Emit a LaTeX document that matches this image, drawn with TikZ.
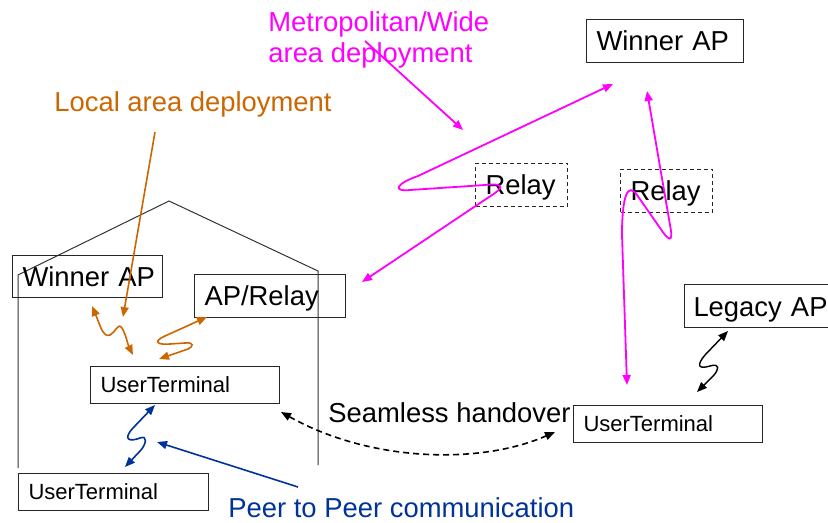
\documentclass[tikz,border=0pt]{standalone}
\usepackage{fontspec}
\setmainfont{Liberation Sans}
\usetikzlibrary{arrows.meta}
\definecolor{localorange}{RGB}{204,102,0}
\definecolor{widemagenta}{RGB}{255,0,255}
\definecolor{peerblue}{RGB}{0,51,153}

\begin{document}
\begin{tikzpicture}[x=0.5pt,y=-0.5pt,
  bigbox/.style={draw=black!85,line width=0.5pt,anchor=north west,inner xsep=5pt,inner ysep=0pt,
    align=left,text height=10pt,text depth=0pt,font=\fontsize{13.7}{16}\selectfont},
  utbox/.style={draw=black!85,line width=0.5pt,anchor=north west,inner xsep=5pt,inner ysep=0pt,
    align=left,text height=7.8pt,text depth=0pt,minimum height=18.5pt,text width=84.5pt,font=\fontsize{11}{13}\selectfont},
  relaybox/.style={bigbox,dashed,dash pattern=on 2pt off 1.5pt,text width=36pt,minimum height=21.5pt},
  freelabel/.style={inner sep=0pt,anchor=base west,font=\fontsize{13.7}{16}\selectfont},
  tip/.style={-{Triangle[length=5pt,width=4pt]}},
  bitip/.style={{Triangle[length=5pt,width=4pt]}-{Triangle[length=5pt,width=4pt]}}]
\useasboundingbox (0,0) rectangle (828,523);

% house outline
\draw[black!80,line width=0.5pt] (18,468) -- (18,275) -- (169,201) -- (318,271) -- (318,465);

% boxes
\node[bigbox,text width=68.5pt,minimum height=21.5pt] (wapR) at (586,19) {Winner~AP};
\node[bigbox,text width=65pt,minimum height=21pt] (wapL) at (12,255) {Winner~AP};
\node[bigbox,text width=65.5pt,minimum height=21.5pt] (aprelay) at (194,274) {AP/Relay};
\node[bigbox,text width=70pt,inner xsep=4.5pt,minimum height=21.5pt] (legacy) at (684,284) {Legacy~AP};
\node[relaybox] (relayA) at (475,163) {Relay};
\node[relaybox] (relayB) at (620,169) {Relay};
\node[utbox] (utMid) at (90,366) {UserTerminal};
\node[utbox,text width=85pt] (utLow) at (18,473) {UserTerminal};
\node[utbox] (utRight) at (573,405) {UserTerminal};

% labels
\node[freelabel,anchor=north west,align=left,text=widemagenta,font=\fontsize{13.7}{15.5}\selectfont] (metro) at (268,11) {Metropolitan/Wide\\area deployment};
\node[freelabel,text=localorange] (lad) at (54,112) {Local area deployment};
\node[freelabel] (seamless) at (328,422) {Seamless handover};
\node[freelabel,text=peerblue] (p2p) at (228,517) {Peer to Peer communication};

% end points
\coordinate (ladS) at (155,132);
\coordinate (ladE) at (123,317);
\coordinate (o1a) at (92,306);
\coordinate (o1b) at (133,355);
\coordinate (o2a) at (207,317);
\coordinate (o2b) at (159,359);
\coordinate (b1a) at (155,405);
\coordinate (b1b) at (125,467);
\coordinate (p2pS) at (298,487);
\coordinate (p2pE) at (157,442);
\coordinate (k1a) at (728,331);
\coordinate (k1b) at (697,392);
\coordinate (hoA) at (281,412);
\coordinate (hoB) at (555,432);
\coordinate (metS) at (365,41);
\coordinate (metE) at (463,130);
\coordinate (m1a) at (362,282);
\coordinate (m1b) at (613,84);
\coordinate (m2a) at (647,91);
\coordinate (m2b) at (627,385);

% local area links
\draw[localorange,line width=0.8pt,tip] (ladS) -- (ladE);
\draw[localorange,line width=0.8pt,bitip] (o1a) .. controls (100,325) and (103,338) .. (110,335)
  .. controls (116,332) and (118,322) .. (122,328) .. controls (126,335) and (128,345) .. (o1b);
\draw[localorange,line width=0.8pt,bitip] (o2a) -- (165,336) .. controls (152,342) and (158,345) .. (170,344)
  -- (185,343) .. controls (195,342) and (193,347) .. (188,349) -- (o2b);

% peer to peer
\draw[peerblue,line width=0.8pt,bitip] (b1a) -- (133,428) .. controls (122,440) and (130,442) .. (140,438)
  .. controls (148,435) and (146,444) .. (141,450) -- (b1b);
\draw[peerblue,line width=0.8pt,tip] (p2pS) -- (p2pE);

% legacy link
\draw[black,line width=0.7pt,bitip] (k1a) -- (705,355) .. controls (695,367) and (700,369) .. (710,366)
  .. controls (720,363) and (719,369) .. (714,375) -- (k1b);

% handover
\draw[black,line width=0.8pt,dash pattern=on 3pt off 2pt,bitip] (hoA) .. controls (370,462) and (480,465) .. (hoB);

% wide area links
\draw[widemagenta,line width=0.9pt,tip] (metS) -- (metE);
\draw[widemagenta,line width=0.9pt,bitip] (m1a) -- (495,193) .. controls (505,186) and (500,183) .. (485,185)
  -- (410,190) .. controls (393,192) and (395,184) .. (418,176) -- (m1b);
\draw[widemagenta,line width=0.9pt,bitip] (m2a) -- (670,225) .. controls (674,245) and (668,240) .. (660,228)
  -- (637,195) .. controls (628,182) and (622,195) .. (622,235) -- (m2b);

\end{tikzpicture}
\end{document}
